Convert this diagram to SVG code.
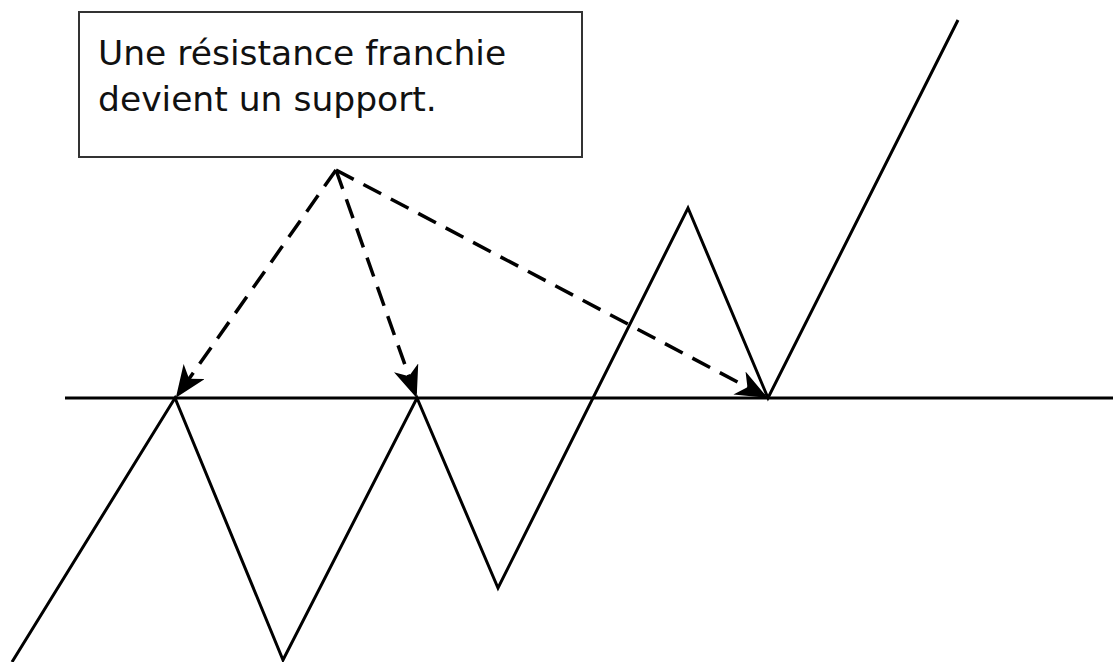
<svg xmlns="http://www.w3.org/2000/svg" width="1113" height="662" viewBox="0 0 1113 662">
<defs>
<style>
.line{fill:none;stroke:#000;stroke-width:3;stroke-linejoin:miter}
.dash{fill:none;stroke:#000;stroke-width:3.5;stroke-dasharray:20 11}
.lbl{font-family:"DejaVu Sans",Verdana,sans-serif;font-size:34.5px;fill:#111}
</style>
<marker id="ah" viewBox="0 0 32 26" refX="30" refY="13" markerWidth="32" markerHeight="26" markerUnits="userSpaceOnUse" orient="auto">
<path d="M0,0 L32,13 L0,26 L9,13 Z" fill="#000"/>
</marker>
</defs>
<rect width="1113" height="662" fill="#fff"/>
<g id="note">
<rect x="79" y="12" width="503" height="145" fill="#fff" stroke="#333" stroke-width="2"/>
<text class="lbl" x="98" y="65">Une résistance franchie</text>
<text class="lbl" x="98" y="111">devient un support.</text>
</g>
<g id="resistance">
<line class="line" x1="65" y1="398" x2="1113" y2="398"/>
</g>
<g id="price">
<polyline class="line" points="12,662 175,398 283,660 417,398 498,588 688,208 768,398 958,20"/>
</g>
<g id="connectors">
<line class="dash" x1="336" y1="170" x2="177" y2="396" marker-end="url(#ah)"/>
<line class="dash" x1="336" y1="170" x2="416" y2="396" marker-end="url(#ah)"/>
<line class="dash" x1="336" y1="170" x2="766" y2="397" marker-end="url(#ah)"/>
</g>
</svg>
